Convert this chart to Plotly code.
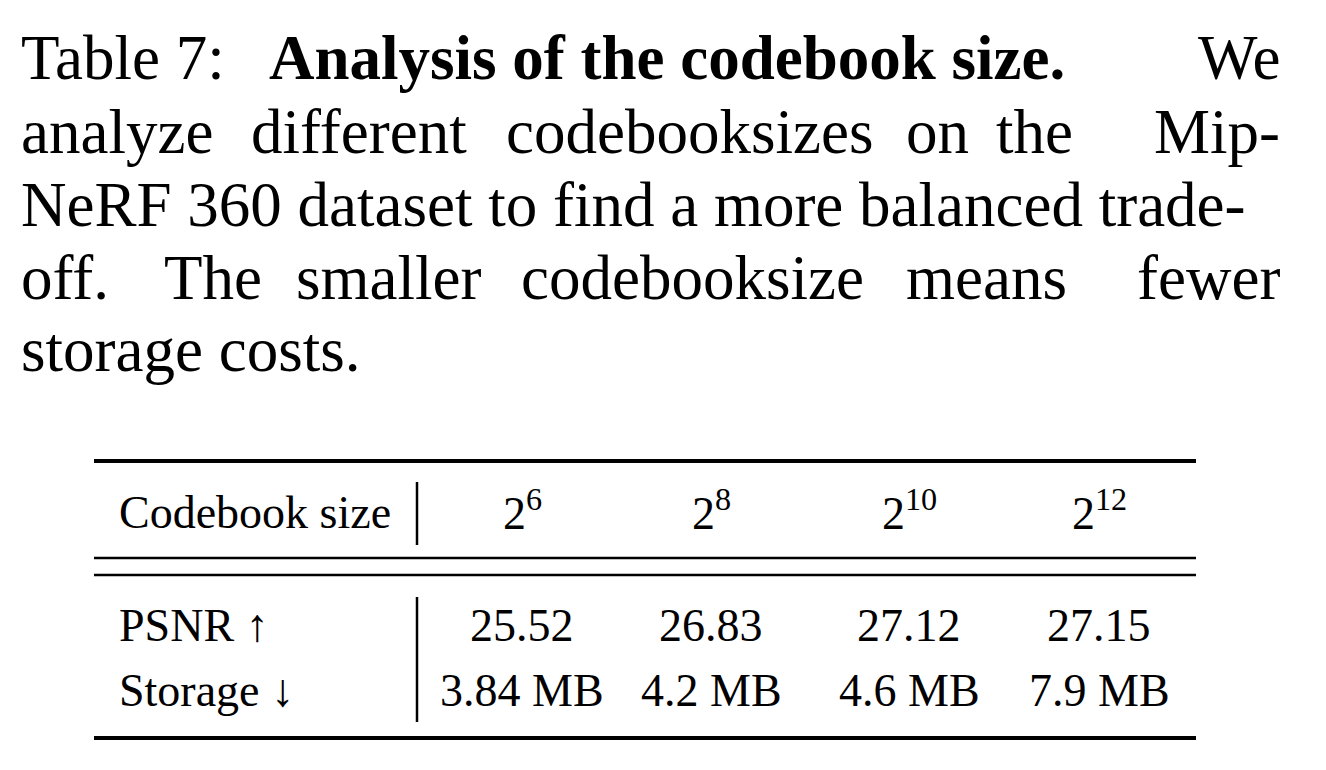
import plotly.graph_objects as go

caption_lines = [
    [("Table 7:", 20, "l", False), ("Analysis of the codebook size.", 268, "l", True), ("We", 1283, "r", False)],
    [("analyze", 20, "l", False), ("different", 250, "l", False), ("codebook", 505, "l", False), ("sizes", 750, "l", False),
     ("on", 905, "l", False), ("the", 995, "l", False), ("Mip-", 1283, "r", False)],
    [("NeRF 360 dataset to find a more balanced trade-", 20, "l", False)],
    [("off.", 20, "l", False), ("The", 163, "l", False), ("smaller", 295, "l", False), ("codebook", 520, "l", False),
     ("size", 765, "l", False), ("means", 905, "l", False), ("fewer", 1283, "r", False)],
    [("storage costs.", 20, "l", False)],
]
caption_y = [58, 132, 205, 278, 350]

header_label = "Codebook size"
codebook_sizes = ["2<sup>6</sup>", "2<sup>8</sup>", "2<sup>10</sup>", "2<sup>12</sup>"]
row_labels = ["PSNR ↑", "Storage ↓"]
psnr = ["25.52", "26.83", "27.12", "27.15"]
storage = ["3.84 MB", "4.2 MB", "4.6 MB", "7.9 MB"]

col_x = [523, 712, 910, 1100]
row_y = [625, 690]
FONT = "Liberation Serif, Times New Roman, serif"
DX, DY = -9, -8

fig = go.Figure()
ann = []
for line, y in zip(caption_lines, caption_y):
    for text, x, anchor, bold in line:
        ann.append(dict(x=x + DX, y=y + DY, text=f"<b>{text}</b>" if bold else text, showarrow=False,
                        xanchor="left" if anchor == "l" else "right", yanchor="middle",
                        font=dict(family=FONT, size=63, color="black")))
ann.append(dict(x=118 + DX, y=512 + DY, text=header_label, showarrow=False, xanchor="left",
                font=dict(family=FONT, size=46, color="black")))
for x, t in zip(col_x, codebook_sizes):
    ann.append(dict(x=x + DX, y=510 + DY, text=t, showarrow=False, font=dict(family=FONT, size=46, color="black")))
for y, lab, vals in zip(row_y, row_labels, [psnr, storage]):
    ann.append(dict(x=118 + DX, y=y + DY, text=lab, showarrow=False, xanchor="left",
                    font=dict(family=FONT, size=46, color="black")))
    for x, v in zip(col_x, vals):
        ann.append(dict(x=x + DX, y=y + DY, text=v, showarrow=False, font=dict(family=FONT, size=46, color="black")))

def hline(y, w):
    return dict(type="line", x0=95 + DX, x1=1197 + DX, y0=y + DY, y1=y + DY, line=dict(color="black", width=w))

def vline(y0, y1):
    return dict(type="line", x0=418 + DX, x1=418 + DX, y0=y0 + DY, y1=y1 + DY, line=dict(color="black", width=2.5))

shapes = [hline(461, 4), hline(558, 2.5), hline(575, 2.5), hline(738, 4), vline(482, 545), vline(597, 722)]

fig.update_layout(width=1326, height=770, margin=dict(l=0, r=0, t=0, b=0),
                  paper_bgcolor="white", plot_bgcolor="white",
                  xaxis=dict(range=[0, 1326], visible=False),
                  yaxis=dict(range=[770, 0], visible=False),
                  annotations=ann, shapes=shapes, showlegend=False)
fig.write_html("out.html")
